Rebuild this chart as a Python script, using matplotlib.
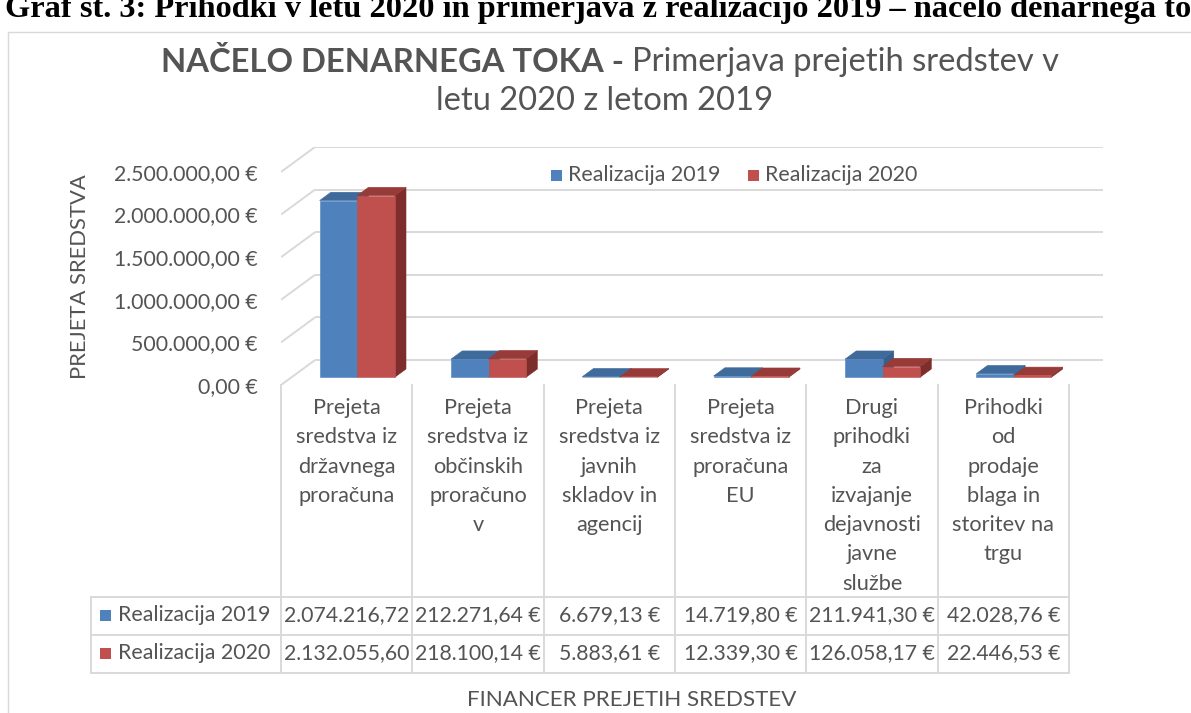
import matplotlib
matplotlib.use("Agg")
import matplotlib.pyplot as plt
from matplotlib.patches import Polygon, Rectangle
from matplotlib.lines import Line2D
import matplotlib.transforms as mtransforms

# ---------------- data ----------------
categories = [
    "Prejeta\nsredstva iz\ndržavnega\nproračuna",
    "Prejeta\nsredstva iz\nobčinskih\nproračuno\nv",
    "Prejeta\nsredstva iz\njavnih\nskladov in\nagencij",
    "Prejeta\nsredstva iz\nproračuna\nEU",
    "Drugi\nprihodki\nza\nizvajanje\ndejavnosti\njavne\nslužbe",
    "Prihodki\nod\nprodaje\nblaga in\nstoritev na\ntrgu",
]
series_names = ["Realizacija 2019", "Realizacija 2020"]
values_2019 = [2074216.72, 212271.64, 6679.13, 14719.80, 211941.30, 42028.76]
values_2020 = [2132055.60, 218100.14, 5883.61, 12339.30, 126058.17, 22446.53]
table_2019 = ["2.074.216,72", "212.271,64 €", "6.679,13 €", "14.719,80 €", "211.941,30 €", "42.028,76 €"]
table_2020 = ["2.132.055,60", "218.100,14 €", "5.883,61 €", "12.339,30 €", "126.058,17 €", "22.446,53 €"]
y_ticks = [0, 500000, 1000000, 1500000, 2000000, 2500000]
y_tick_labels = ["0,00 €", "500.000,00 €", "1.000.000,00 €", "1.500.000,00 €",
                 "2.000.000,00 €", "2.500.000,00 €"]
caption = "Graf št. 3: Prihodki v letu 2020 in primerjava z realizacijo 2019 – načelo denarnega toka"
title_bold = "NAČELO DENARNEGA TOKA -"
title_rest = "Primerjava prejetih sredstev v"
title_line2 = "letu 2020 z letom 2019"
y_label = "PREJETA SREDSTVA"
x_label = "FINANCER PREJETIH SREDSTEV"

# ---------------- style ----------------
W, H = 1191, 713
FONT = ["Lato", "DejaVu Sans"]
SERIF = ["Liberation Serif", "DejaVu Serif"]
TXT = "#545454"
GRID = "#D9D9D9"
face = {"front": ["#4F81BD", "#C0504D"],
        "top": ["#3E6A9C", "#983B38"],
        "side": ["#375E8C", "#7D2E2C"]}

fig = plt.figure(figsize=(W / 100, H / 100), dpi=100)
fig.patch.set_facecolor("white")
renderer = fig.canvas.get_renderer()


def fx(px):
    return px / W


def fy(py):
    return 1 - py / H


def fit(text, target_px, weight="normal", family=FONT, base=20.0):
    t = fig.text(0, 0, text, fontsize=base, fontweight=weight, family=family)
    w = t.get_window_extent(renderer).width
    t.remove()
    return base * target_px / w


def width_px(text, size, weight="normal", family=FONT):
    t = fig.text(0, 0, text, fontsize=size, fontweight=weight, family=family)
    w = t.get_window_extent(renderer).width
    t.remove()
    return w


# chart frame (extends beyond the right/bottom edges)
fig.patches.append(Rectangle((fx(8), -0.1), 1.2, fy(32) + 0.1, fill=False,
                             edgecolor=GRID, lw=1.0, transform=fig.transFigure))

# caption at top (partly cut off, as in the source)
cap_fs = fit(caption[:-2], 1186, weight="bold", family=SERIF)
fig.text(fx(5), fy(17), caption, fontsize=cap_fs, fontweight="bold", family=SERIF,
         color="black", ha="left", va="baseline")

# title
t_fs = fit(title_bold + " " + title_rest, 906, weight="bold")
wb = width_px(title_bold + " ", t_fs, weight="bold")
wr = width_px(title_rest, t_fs)
x0 = 610 - (wb + wr) / 2
fig.text(fx(x0), fy(62), title_bold, fontsize=t_fs, fontweight="bold", family=FONT,
         color=TXT, ha="left", va="center")
fig.text(fx(x0 + wb), fy(62), title_rest, fontsize=t_fs, family=FONT,
         color=TXT, ha="left", va="center")
fig.text(fx(605), fy(101), title_line2, fontsize=t_fs, family=FONT,
         color=TXT, ha="center", va="center")

# ---------------- 3D-like axes ----------------
DX = 0.259          # depth offset in category units
DY = 293000.0       # depth offset in value units
F0, F1 = 0.31, 0.64  # bar depth span (fraction of full depth)
BW = 0.286          # bar width
n = len(categories)

ax = fig.add_axes([fx(281), fy(385), (1103 - 281) / W, (385 - 147) / H])
ax.set_xlim(0, n + DX)
ax.set_ylim(0, 2500000 + DY)
for s in ax.spines.values():
    s.set_visible(False)
ax.set_xticks([])
tick_fs = fit("2.500.000,00 €", 144)
ax.set_yticks(y_ticks, y_tick_labels)
ax.tick_params(axis="y", length=0, pad=17, labelsize=tick_fs, labelcolor=TXT)
for lab in ax.get_yticklabels():
    lab.set_family(FONT)
ax.patch.set_visible(False)

for v in y_ticks:
    ax.plot([0, DX], [v, v + DY], color=GRID, lw=1.4, zorder=1, solid_capstyle="butt")
    ax.plot([DX, n + DX], [v + DY, v + DY], color=GRID, lw=1.4, zorder=1,
            solid_capstyle="butt")

ddx = (F1 - F0) * DX
ddy = (F1 - F0) * DY
yb = F0 * DY
for i in range(n):
    cx = i + 0.5 + F0 * DX
    for k, vals in enumerate([values_2019, values_2020]):
        h = vals[i]
        xa = cx - BW + k * BW
        xb = xa + BW
        top = [(xa, yb + h), (xb, yb + h), (xb + ddx, yb + h + ddy), (xa + ddx, yb + h + ddy)]
        side = [(xb, yb), (xb + ddx, yb + ddy), (xb + ddx, yb + h + ddy), (xb, yb + h)]
        front = [(xa, yb), (xb, yb), (xb, yb + h), (xa, yb + h)]
        z = 3 + i * 0.1 + k * 0.01
        ax.add_patch(Polygon(side, closed=True, facecolor=face["side"][k],
                             edgecolor=face["side"][k], lw=0.4, zorder=z, clip_on=False))
        ax.add_patch(Polygon(top, closed=True, facecolor=face["top"][k],
                             edgecolor=face["top"][k], lw=0.4, zorder=z, clip_on=False))
        ax.add_patch(Polygon(front, closed=True, facecolor=face["front"][k],
                             edgecolor=face["front"][k], lw=0.4, zorder=z + 0.001,
                             clip_on=False))

# ---------------- data table ----------------
bt = mtransforms.blended_transform_factory(ax.transData, fig.transFigure)
right_px = ax.transData.transform((n, 0))[0]
for i in range(n + 1):
    fig.lines.append(Line2D([i, i], [fy(385), fy(673)], transform=bt, color=GRID, lw=1.4))
for py in [597, 635, 673]:
    fig.lines.append(Line2D([fx(91), right_px / W], [fy(py), fy(py)],
                            transform=fig.transFigure, color=GRID, lw=1.4))
fig.lines.append(Line2D([fx(91), fx(91)], [fy(597), fy(673)],
                        transform=fig.transFigure, color=GRID, lw=1.4))

cat_fs = fit("sredstva iz", 101)
for i, lab in enumerate(categories):
    for j, line in enumerate(lab.split("\n")):
        fig.text(i + 0.5, fy(408 + 29.3 * j), line, transform=bt, fontsize=cat_fs,
                 family=FONT, color=TXT, ha="center", va="center")

lab_fs = fit("Realizacija 2019", 152)
val_fs = fit("2.074.216,72", 126)
row_y = [615, 653]
for k, (name, row) in enumerate(zip(series_names, [table_2019, table_2020])):
    fig.patches.append(Rectangle((fx(100), fy(row_y[k] + 6)), 11 / W, 11 / H,
                                 transform=fig.transFigure, facecolor=face["front"][k],
                                 edgecolor="none"))
    fig.text(fx(118), fy(row_y[k]), name, fontsize=lab_fs, family=FONT, color=TXT,
             ha="left", va="center")
    for i, s in enumerate(row):
        fig.text(i + 0.5, fy(row_y[k]), s, transform=bt, fontsize=val_fs, family=FONT,
                 color=TXT, ha="center", va="center")

# legend
leg_x = [551, 748]
for k, name in enumerate(series_names):
    fig.patches.append(Rectangle((fx(leg_x[k]), fy(181)), 11 / W, 11 / H,
                                 transform=fig.transFigure, facecolor=face["front"][k],
                                 edgecolor="none"))
    fig.text(fx(leg_x[k] + 17), fy(175), name, fontsize=lab_fs, family=FONT, color=TXT,
             ha="left", va="center")

# axis titles
fig.text(fx(80), fy(277), y_label, fontsize=fit(y_label, 205), family=FONT, color=TXT,
         rotation=90, ha="center", va="center")
fig.text(fx(632), fy(700), x_label, fontsize=fit(x_label, 330), family=FONT, color=TXT,
         ha="center", va="center")

fig.savefig("out.png", dpi=100)
